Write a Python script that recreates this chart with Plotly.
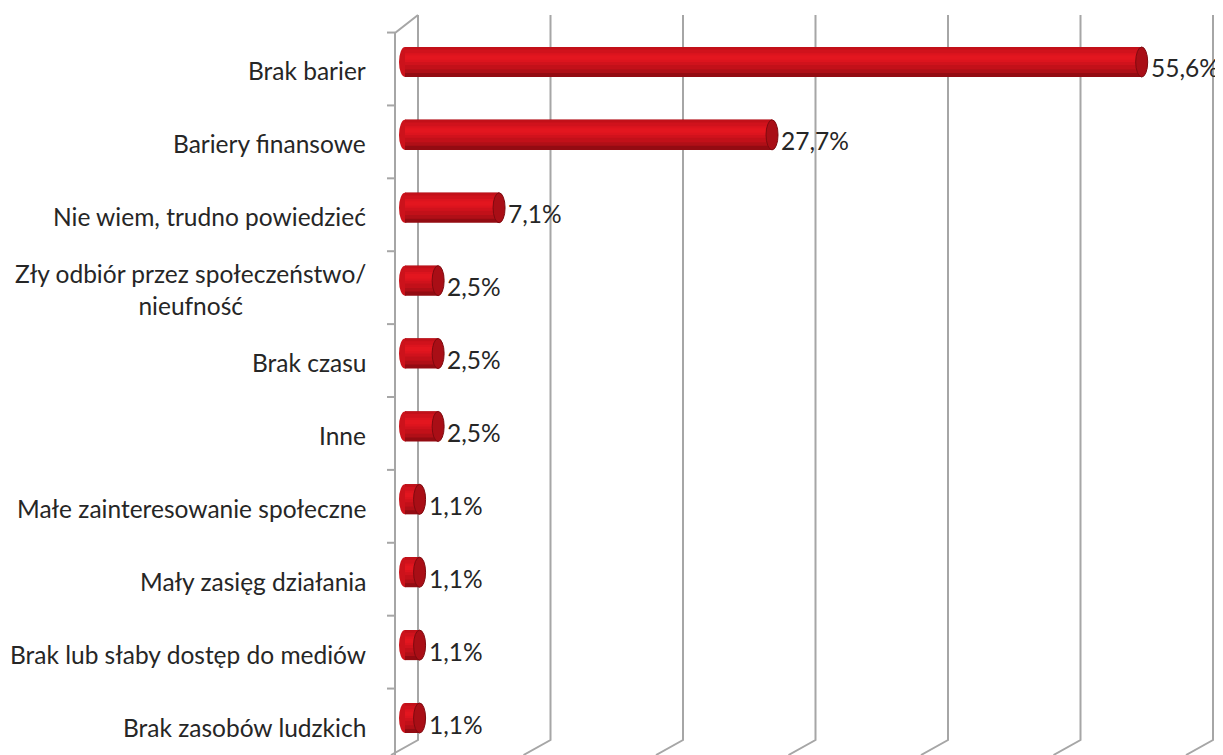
import plotly.graph_objects as go

# the page body keeps an 8px margin, so the figure is drawn 8px smaller
OFF = 8
W, H = 1223 - OFF, 755 - OFF

CATEGORIES = [
    "Brak barier",
    "Bariery finansowe",
    "Nie wiem, trudno powiedzieć",
    "Zły odbiór przez społeczeństwo/<br>nieufność",
    "Brak czasu",
    "Inne",
    "Małe zainteresowanie społeczne",
    "Mały zasięg działania",
    "Brak lub słaby dostęp do mediów",
    "Brak zasobów ludzkich",
]
VALUES = [55.6, 27.7, 7.1, 2.5, 2.5, 2.5, 1.1, 1.1, 1.1, 1.1]
GRID_TICKS = [0, 10, 20, 30, 40, 50, 60]

TEXT = "#262626"
GRID_GRAY = "#a6a6a6"
FONT = "Lato, Arial, sans-serif"
FSIZE = 24.5

# cylinder shading: nested layers, each drawn over the previous one
HALF = 0.206
LAYERS = [
    (-0.206, 0.206, "#930b12"),
    (-0.206, 0.15, "#b00f17"),
    (-0.206, 0.10, "#c21019"),
    (-0.17, 0.04, "#d0121c"),
    (-0.12, 0.0, "#dc141e"),
    (-0.09, -0.03, "#e3161f"),
]
CAP_FILL = "#a90e16"
CAP_LINE = "#7e0a0f"


def py(px):
    """reference pixel row -> paper y"""
    return 1 - (px - OFF) / H


# pixel geometry of the pseudo-3D frame
BACK_DX = 13      # back wall offset right of the bar plane
FRONT_DX = -10    # front axis offset left of the bar plane
BACK_TOP = py(15)
BACK_BOT = py(740)
FRONT_TOP = py(33)

# x scale: 0 -> 405px, 60 -> 1200px; the domain is wider so the frame is not clipped
PX_PER = (1200 - 405) / 60
X_LEFT, X_RIGHT = 375, 1223
x_range = [-(405 - X_LEFT) / PX_PER, 60 + (X_RIGHT - 1200) / PX_PER]

idx = list(range(len(CATEGORIES)))
band = 72.9
y_top = -(62 - OFF) / band
y_bot = (len(CATEGORIES) - 1) + (755 - 718) / band

fig = go.Figure()
for y0, y1, col in LAYERS:
    fig.add_trace(go.Bar(
        x=VALUES, y=idx, orientation="h",
        width=y1 - y0, offset=y0,
        marker=dict(color=col, line=dict(width=0)),
        hoverinfo="skip", showlegend=False,
    ))

shapes = []
# back wall gridlines with slanted floor edge
for t in GRID_TICKS:
    shapes.append(dict(
        type="path", xref="x", yref="paper", xsizemode="pixel", xanchor=t,
        path=f"M {BACK_DX},{BACK_TOP} L {BACK_DX},{BACK_BOT} L {FRONT_DX - 4},0",
        line=dict(color=GRID_GRAY, width=2), layer="below",
    ))
# front category axis
shapes.append(dict(
    type="path", xref="x", yref="paper", xsizemode="pixel", xanchor=0,
    path=f"M {BACK_DX},{BACK_TOP} L {FRONT_DX},{FRONT_TOP} L {FRONT_DX},0",
    line=dict(color=GRID_GRAY, width=2), layer="below",
))
for i in idx:
    shapes.append(dict(
        type="line", xref="x", yref="y", xsizemode="pixel", xanchor=0,
        ysizemode="pixel", yanchor=i - 0.5,
        x0=FRONT_DX - 8, x1=FRONT_DX, y0=-7, y1=-7,
        line=dict(color=GRID_GRAY, width=2), layer="below",
    ))
# rounded starts and end caps
for i, v in zip(idx, VALUES):
    shapes.append(dict(
        type="circle", xref="x", yref="y", xsizemode="pixel", xanchor=0,
        x0=-6, x1=6, y0=i - HALF, y1=i + HALF,
        fillcolor="#cc121b", line=dict(width=0), layer="below",
    ))
    shapes.append(dict(
        type="circle", xref="x", yref="y", xsizemode="pixel", xanchor=v,
        x0=-6, x1=6, y0=i - HALF, y1=i + HALF,
        fillcolor=CAP_FILL, line=dict(color=CAP_LINE, width=1), layer="above",
    ))

annotations = []
for i, (c, v) in enumerate(zip(CATEGORIES, VALUES)):
    annotations.append(dict(
        x=0, y=i, xref="x", yref="y", text=c, showarrow=False,
        xanchor="right", yanchor="middle", align="center",
        xshift=-37, yshift=-9, font=dict(size=FSIZE, color=TEXT, family=FONT),
    ))
    annotations.append(dict(
        x=v, y=i, xref="x", yref="y", text=f"{v:.1f}".replace(".", ",") + "%",
        showarrow=False, xanchor="left", yanchor="middle",
        xshift=7, yshift=-6, font=dict(size=FSIZE, color=TEXT, family=FONT),
    ))

fig.update_layout(
    width=W, height=H, barmode="overlay",
    paper_bgcolor="white", plot_bgcolor="white",
    margin=dict(l=0, r=0, t=0, b=0),
    font=dict(family=FONT, color=TEXT),
    xaxis=dict(domain=[(X_LEFT - OFF) / W, (X_RIGHT - OFF) / W], range=x_range,
               showgrid=False, zeroline=False, showticklabels=False, showline=False),
    yaxis=dict(range=[y_bot, y_top], showgrid=False, zeroline=False,
               showticklabels=False, showline=False),
    shapes=shapes, annotations=annotations,
)

fig.write_html("out.html")
